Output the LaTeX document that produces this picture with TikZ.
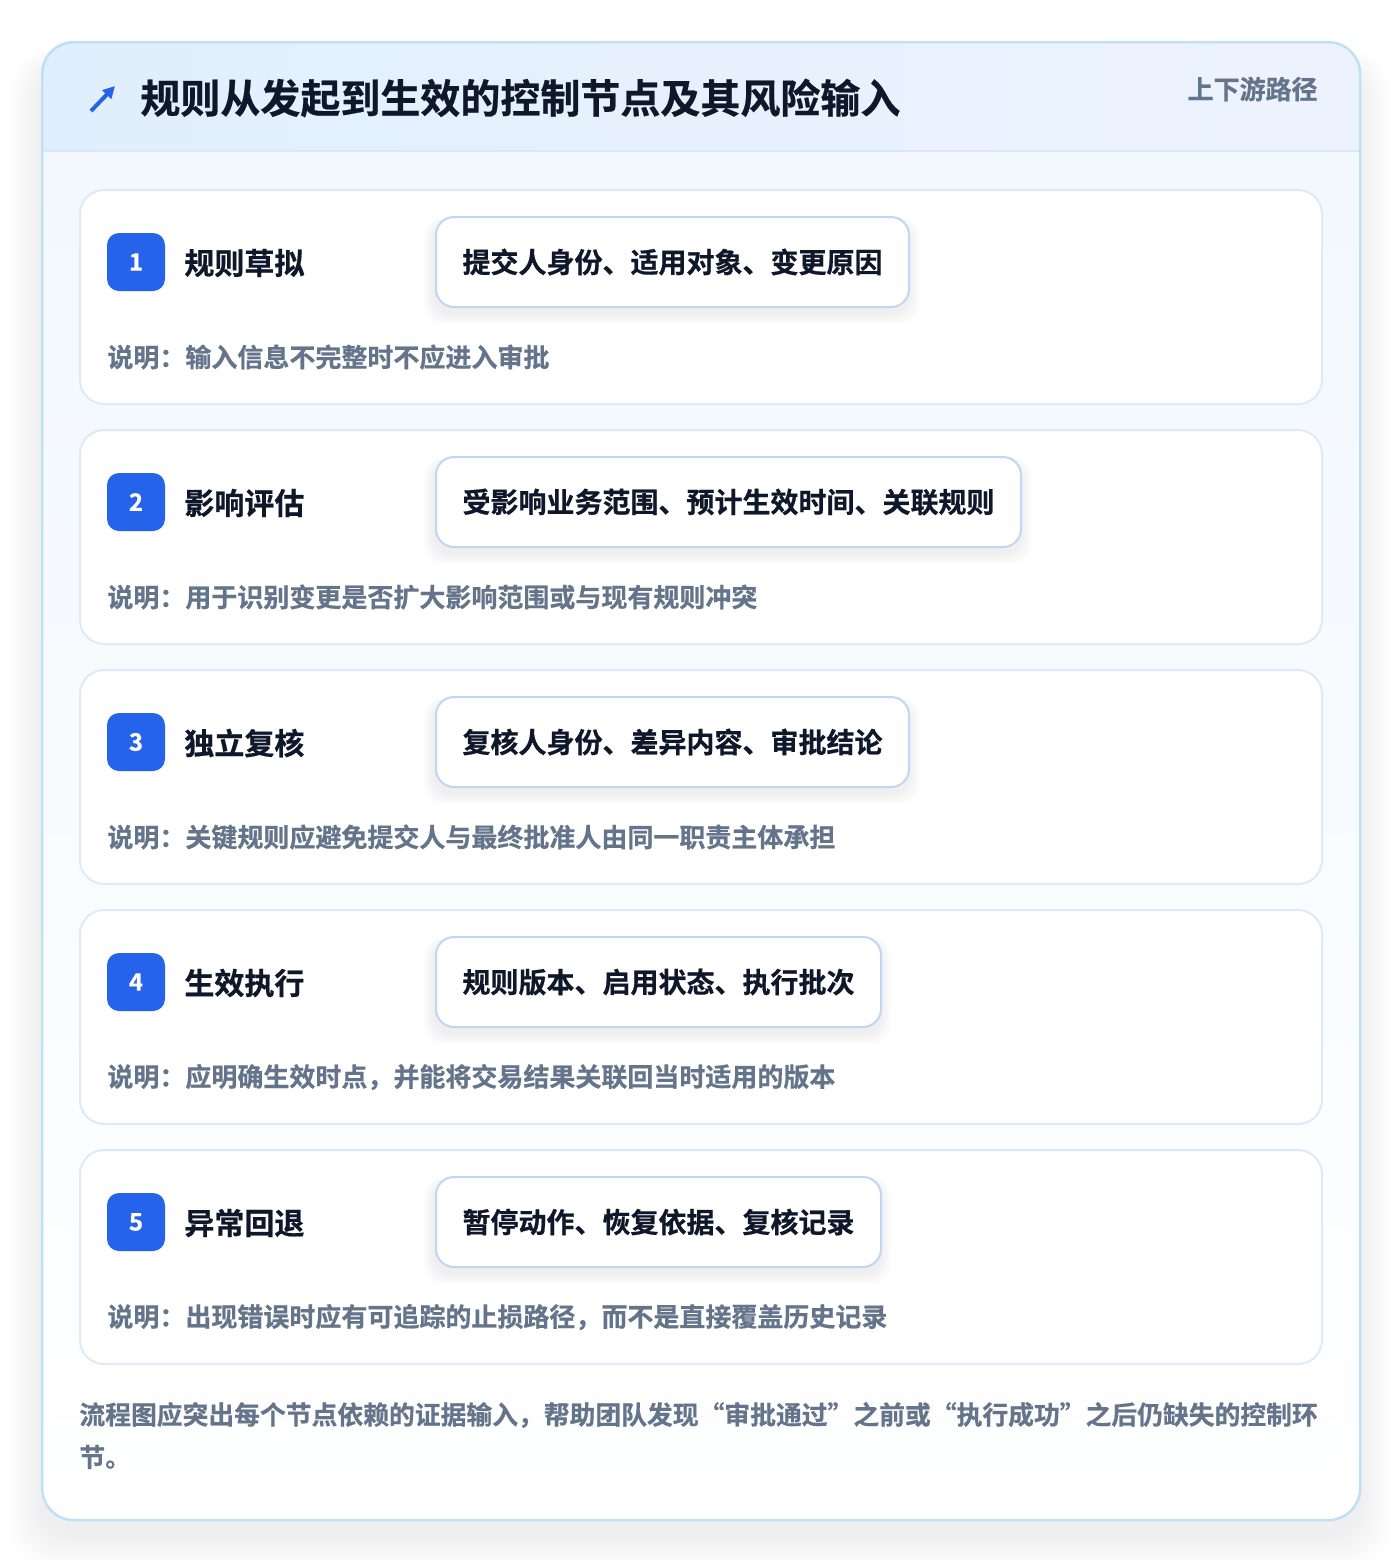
\documentclass[tikz,border=0pt]{standalone}
\usepackage{fontspec}
\setmainfont{Noto Sans CJK SC}[BoldFont={* Bold}, BoldFeatures={FakeBold=0.6}]
\usetikzlibrary{arrows.meta}
\definecolor{outerline}{HTML}{BCE0F6}
\definecolor{hdrL}{HTML}{E0EFFD}
\definecolor{hdrR}{HTML}{EDF3FE}
\definecolor{hdrline}{HTML}{D6E8FA}
\definecolor{bodytop}{HTML}{F2F8FE}
\definecolor{cardline}{HTML}{DCEAFA}
\definecolor{boxline}{HTML}{BFD6F4}
\definecolor{badgeblue}{HTML}{2563EB}
\definecolor{ink}{HTML}{0F172A}
\definecolor{muted}{HTML}{64748B}
\begin{document}
\begin{tikzpicture}[x=0.5pt,y=-0.5pt,
  card/.style={draw=cardline, line width=1pt, fill=white, rounded corners=12pt,
    minimum width=621pt, minimum height=107pt, anchor=north west, inner sep=0pt},
  badge/.style={fill=badgeblue, rounded corners=6pt, minimum size=29pt, inner sep=0pt,
    text=white, font=\bfseries\fontsize{12pt}{12pt}\selectfont},
  steptitle/.style={anchor=west, inner sep=0pt, text=ink, font=\bfseries\fontsize{15pt}{16pt}\selectfont},
  inbox/.style={anchor=west, draw=boxline, line width=1pt, fill=white, rounded corners=9pt,
    minimum height=45pt, inner sep=0pt, text=ink, font=\bfseries\fontsize{14pt}{15pt}\selectfont},
  desc/.style={anchor=west, inner sep=0pt, text=muted, font=\bfseries\fontsize{13pt}{14pt}\selectfont},
  foot/.style={anchor=west, inner sep=0pt, text=muted, font=\bfseries\fontsize{12.9pt}{14pt}\selectfont},
  softshadow/.style={black, opacity=0.005},
]
\useasboundingbox (0,0) rectangle (1400,1560);
\fill[white] (0,0) rectangle (1400,1560);
% outer card soft shadow (layers)
\foreach \k in {1,...,16}{
  \fill[softshadow, rounded corners=20pt] (41-2*\k, 66-1*\k) rectangle (1359+2*\k, 1536+2*\k);
}
\fill[white, rounded corners=16pt] (41,41) rectangle (1359,1519);
\begin{scope}
  \clip[rounded corners=16pt] (41,41) rectangle (1359,1519);
  \shade[top color=bodytop, bottom color=white] (41,151) rectangle (1359,1519);
  \shade[left color=hdrL, right color=hdrR] (41,41) rectangle (1359,151);
  \draw[hdrline, line width=1pt] (41,151) -- (1359,151);
\end{scope}
\node[draw=outerline, line width=1.2pt, rounded corners=16pt, minimum width=659pt, minimum height=739pt,
  anchor=north west, inner sep=0pt] (outer) at (41,41) {};

% header
\coordinate (arrS) at (91,111);
\coordinate (arrE) at (115,86);
\draw[badgeblue, line width=2pt, -{Triangle[length=6pt,width=6pt]}] (arrS) -- (arrE);
\node[anchor=west, inner sep=0pt, text=ink, font=\bfseries\fontsize{20pt}{22pt}\selectfont] (title) at (140,98)
  {规则从发起到生效的控制节点及其风险输入};
\node[anchor=east, inner sep=0pt, text=muted, font=\bfseries\fontsize{13pt}{14pt}\selectfont] (tag) at (1318,89)
  {上下游路径};

% step cards
\foreach \i/\y in {1/189,2/429,3/669,4/909,5/1149}{
  \node[card] (c\i) at (79,\y) {};
}
% input box shadows
\foreach \y/\r in {217/908,457/1020,697/908,937/880,1177/880}{
  \foreach \k in {1,...,8}{
    \fill[black, opacity=0.006, rounded corners=10pt] (435-1.5*\k, \y+4-0.5*\k) rectangle (\r+1.5*\k, \y+90+6+1.5*\k);
  }
}

% step 1
\node[badge] (b1) at (136,262) {1};
\node[steptitle] (t1) at (184,263) {规则草拟};
\node[inbox, minimum width=236.5pt] (i1) at (435,262) {提交人身份、适用对象、变更原因};
\node[desc] (d1) at (107,357) {说明：输入信息不完整时不应进入审批};

% step 2
\node[badge] (b2) at (136,502) {2};
\node[steptitle] (t2) at (184,503) {影响评估};
\node[inbox, minimum width=292.5pt] (i2) at (435,502) {受影响业务范围、预计生效时间、关联规则};
\node[desc] (d2) at (107,597) {说明：用于识别变更是否扩大影响范围或与现有规则冲突};

% step 3
\node[badge] (b3) at (136,742) {3};
\node[steptitle] (t3) at (184,743) {独立复核};
\node[inbox, minimum width=236.5pt] (i3) at (435,742) {复核人身份、差异内容、审批结论};
\node[desc] (d3) at (107,837) {说明：关键规则应避免提交人与最终批准人由同一职责主体承担};

% step 4
\node[badge] (b4) at (136,982) {4};
\node[steptitle] (t4) at (184,983) {生效执行};
\node[inbox, minimum width=222.5pt] (i4) at (435,982) {规则版本、启用状态、执行批次};
\node[desc] (d4) at (107,1077) {说明：应明确生效时点，并能将交易结果关联回当时适用的版本};

% step 5
\node[badge] (b5) at (136,1222) {5};
\node[steptitle] (t5) at (184,1223) {异常回退};
\node[inbox, minimum width=222.5pt] (i5) at (435,1222) {暂停动作、恢复依据、复核记录};
\node[desc] (d5) at (107,1317) {说明：出现错误时应有可追踪的止损路径，而不是直接覆盖历史记录};

% footer
\node[foot] (f1) at (79,1415) {流程图应突出每个节点依赖的证据输入，帮助团队发现“审批通过”之前或“执行成功”之后仍缺失的控制环};
\node[foot] (f2) at (79,1457) {节。};
\end{tikzpicture}
\end{document}
